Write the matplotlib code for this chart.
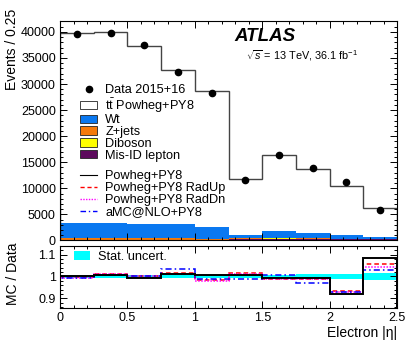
import matplotlib
matplotlib.use("Agg")
import matplotlib.pyplot as plt
import numpy as np
from matplotlib.patches import Patch
from matplotlib.lines import Line2D
from matplotlib.ticker import MultipleLocator, FormatStrFormatter

plt.rcParams['font.family'] = ['Liberation Sans', 'DejaVu Sans']
plt.rcParams['mathtext.fontset'] = 'custom'
plt.rcParams['mathtext.rm'] = 'Liberation Sans'
plt.rcParams['mathtext.it'] = 'Liberation Sans:italic'
plt.rcParams['mathtext.bf'] = 'Liberation Sans:bold'

# ---- data ----
edges = np.arange(0, 2.51, 0.25)
data = [39560, 39880, 37410, 32330, 28340, 11660, 16410, 13940, 11280, 5760]
ttbar = [36410, 36650, 34150, 29505, 25950, 10635, 14550, 12355, 9290, 5500]
wt = [2980, 2960, 2710, 2675, 2260, 655, 1260, 1005, 725, 410]
zjets = [300, 300, 290, 280, 250, 80, 100, 90, 80, 60]
diboson = [40, 40, 40, 35, 30, 15, 20, 15, 15, 10]
misid = [120, 120, 110, 110, 100, 350, 380, 330, 280, 220]

# MC / Data
r_nominal = [1.004, 1.006, 0.993, 1.009, 1.007, 1.005, 0.992, 0.992, 0.921, 1.085]
r_radup = [0.997, 1.013, 1.000, 1.016, 0.983, 1.014, 0.990, 0.990, 0.933, 1.058]
r_raddn = [0.994, 1.010, 1.000, 1.010, 0.978, 1.010, 0.990, 0.988, 0.929, 1.044]
r_amc = [0.994, 1.005, 1.002, 1.032, 0.989, 0.987, 1.007, 0.968, 0.929, 1.031]
stat_unc = [0.006, 0.006, 0.006, 0.006, 0.006, 0.008, 0.008, 0.010, 0.010, 0.016]

# ---- figure ----
fig = plt.figure(figsize=(4.14, 3.53), dpi=100)
ax = fig.add_axes([0.145, 0.3187, 0.814, 0.6204])
rax = fig.add_axes([0.145, 0.1275, 0.814, 0.1756])

stack = [(misid, '#5c0a5c', 'Mis-ID lepton'),
         (diboson, '#ffff00', 'Diboson'),
         (zjets, '#f57a0a', 'Z+jets'),
         (wt, '#0a78f0', 'Wt'),
         (ttbar, 'white', r'$\mathrm{t\bar{t}}$ Powheg+PY8')]
bottom = np.zeros(len(data))
for vals, col, lab in stack:
    top = bottom + np.array(vals)
    ax.stairs(top, edges, baseline=bottom, fill=True, color=col, lw=0)
    bottom = top
ax.stairs(bottom, edges, color='#444444', lw=1.0)

centers = 0.5 * (edges[:-1] + edges[1:])
ax.plot(centers, data, 'o', color='black', ms=4.5, zorder=5)

ax.set_xlim(0, 2.5)
ax.set_ylim(0, 42000)
ax.xaxis.set_major_locator(MultipleLocator(0.5))
ax.xaxis.set_minor_locator(MultipleLocator(0.1))
ax.yaxis.set_major_locator(MultipleLocator(5000))
ax.yaxis.set_minor_locator(MultipleLocator(1000))
ax.tick_params(labelbottom=False)

# ratio
band = np.array(stat_unc)
rax.stairs(1 + band, edges, baseline=1 - band, fill=True, color='#00ffff', lw=0)
rax.stairs(r_radup, edges, color='#ff0000', lw=1.1, ls=(0, (3, 2)))
rax.stairs(r_raddn, edges, color='#ff00ff', lw=1.1, ls=(0, (1, 1)))
rax.stairs(r_amc, edges, color='#0000ff', lw=1.1, ls=(0, (4, 2, 1, 2)))
rax.stairs(r_nominal, edges, color='black', lw=1.4)
rax.set_xlim(0, 2.5)
rax.set_ylim(0.855, 1.14)
rax.xaxis.set_major_locator(MultipleLocator(0.5))
rax.xaxis.set_minor_locator(MultipleLocator(0.1))
rax.yaxis.set_major_locator(MultipleLocator(0.1))
rax.yaxis.set_minor_locator(MultipleLocator(0.02))
rax.yaxis.set_major_formatter(FormatStrFormatter('%g'))
rax.xaxis.set_major_formatter(FormatStrFormatter('%g'))

for a in (ax, rax):
    a.tick_params(which='both', direction='in', top=True, right=True, labelsize=9, pad=3)
    a.tick_params(which='major', length=5, width=0.7)
    a.tick_params(which='minor', length=2.5, width=0.7)
    for s in a.spines.values():
        s.set_linewidth(0.8)

# legends
leg_kw = dict(loc='upper left', frameon=False, fontsize=9.2, borderpad=0, borderaxespad=0,
              handlelength=1.3, handleheight=0.65, handletextpad=0.65)
h1 = [Line2D([], [], marker='o', color='black', ls='none', ms=4.5)]
l1 = ['Data 2015+16']
for vals, col, lab in stack[::-1]:
    h1.append(Patch(facecolor=col, edgecolor='#222222', lw=0.6))
    l1.append(lab)
leg1 = ax.legend(h1, l1, bbox_to_anchor=(0.06, 0.713), labelspacing=-0.02, **leg_kw)
ax.add_artist(leg1)
h2 = [Line2D([], [], color='black', lw=0.8),
      Line2D([], [], color='#ff0000', lw=1.0, ls=(0, (3, 2))),
      Line2D([], [], color='#ff00ff', lw=1.0, ls=(0, (1, 1))),
      Line2D([], [], color='#0000ff', lw=1.0, ls=(0, (4, 2, 1, 2)))]
l2 = ['Powheg+PY8', 'Powheg+PY8 RadUp', 'Powheg+PY8 RadDn', 'aMC@NLO+PY8']
ax.legend(h2, l2, bbox_to_anchor=(0.06, 0.322), labelspacing=0.0, **leg_kw)

rax.legend([Patch(facecolor='#00ffff', lw=0)], ['Stat. uncert.'],
           bbox_to_anchor=(0.04, 0.92), **leg_kw)

ax.text(0.516, 0.93, 'ATLAS', transform=ax.transAxes, fontsize=13.5,
        fontweight='bold', fontstyle='italic', va='center', ha='left')
ax.text(0.553, 0.845, r'$\sqrt{s}$ = 13 TeV, 36.1 fb$^{-1}$', transform=ax.transAxes,
        fontsize=7.8, va='center', ha='left')

fig.text(12 / 414, 1 - 9 / 353, 'Events / 0.25', rotation=90, ha='center', va='top', fontsize=10)
fig.text(13 / 414, 1 - 274 / 353, 'MC / Data', rotation=90, ha='center', va='center', fontsize=10)
fig.text(397 / 414, 1 - 333 / 353, 'Electron |η|', ha='right', va='center', fontsize=10)

fig.savefig('out.png', dpi=100)
